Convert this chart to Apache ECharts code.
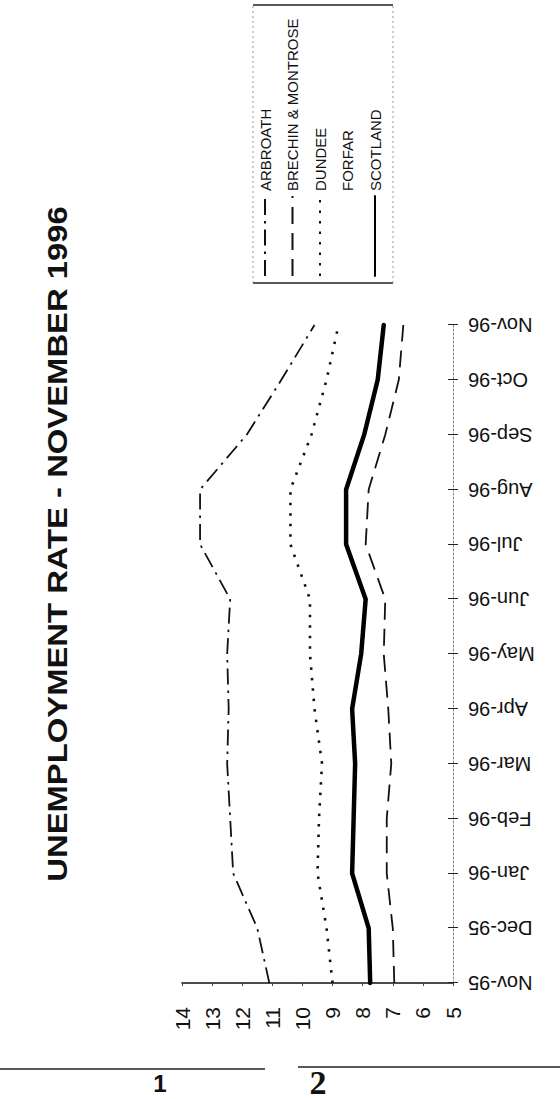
<!DOCTYPE html>
<html><head><meta charset="utf-8">
<script src="https://cdn.jsdelivr.net/npm/echarts@6/dist/echarts.min.js"></script>
<style>
html,body{margin:0;padding:0;background:#fff;overflow:hidden;width:560px;height:1099px;}
#chart{position:absolute;left:0;top:0;width:1099px;height:560px;transform-origin:0 0;transform:translate(0px,1099px) rotate(-90deg);}
</style></head><body><div id="chart"></div>
<script>
// Data (months Nov-95 .. Nov-96)
const months = ['Nov-95','Dec-95','Jan-96','Feb-96','Mar-96','Apr-96','May-96','Jun-96','Jul-96','Aug-96','Sep-96','Oct-96','Nov-96'];
const arbroath = [11.1, 11.5, 12.3, 12.4, 12.5, 12.45, 12.5, 12.4, 13.4, 13.4, 11.85, 10.7, 9.6];
const brechin  = [6.95, 7.0, 7.2, 7.2, 7.05, 7.15, 7.3, 7.25, 7.9, 7.8, 7.25, 6.8, 6.65];
const dundee   = [9.0, 9.2, 9.5, 9.45, 9.35, 9.6, 9.75, 9.75, 10.4, 10.4, 9.7, 9.2, 8.8];
const forfar   = [];
const scotland = [7.75, 7.8, 8.35, 8.3, 8.25, 8.35, 8.05, 7.9, 8.55, 8.55, 7.95, 7.5, 7.3];
const seriesNames = ['ARBROATH','BRECHIN & MONTROSE','DUNDEE','FORFAR','SCOTLAND'];
const valueMin = 5, valueMax = 14, valueStep = 1;
const titleText = 'UNEMPLOYMENT RATE - NOVEMBER 1996';

const FONT = 'Liberation Sans, Arial, Helvetica, sans-serif';
const chart = echarts.init(document.getElementById('chart'), null, {renderer:'svg'});
chart.setOption({
  animation:false,
  backgroundColor:'#fff',
  legend:{orient:'vertical',left:822,top:257,padding:0,itemWidth:80,itemHeight:16,itemGap:11.5,
    selectedMode:false,data:seriesNames,
    itemStyle:{opacity:0,borderWidth:0},
    textStyle:{fontFamily:FONT,fontSize:15,color:'#111',lineHeight:16}},
  grid:{left:116,right:325,top:182,bottom:107,containLabel:false},
  xAxis:[{type:'category',data:months,boundaryGap:false,position:'bottom',
      axisLine:{show:true,onZero:false,lineStyle:{color:'#888',width:1,type:[2,2]}},
      axisTick:{show:true,inside:false,length:5,lineStyle:{color:'#222',width:1}},
      axisLabel:{rotate:90,margin:15,fontFamily:FONT,fontSize:20,color:'#111'},
      splitLine:{show:false}},
    {type:'category',data:months,boundaryGap:false,position:'bottom',
      axisLine:{show:false,onZero:false},
      axisTick:{show:true,inside:true,length:5,lineStyle:{color:'#222',width:1}},
      axisLabel:{show:false},splitLine:{show:false}}],
  yAxis:{type:'value',min:valueMin,max:valueMax,interval:valueStep,
    axisLine:{show:true,onZero:false,lineStyle:{color:'#111',width:1.6}},
    axisTick:{show:true,length:3,lineStyle:{color:'#444',width:1}},
    axisLabel:{margin:24,fontFamily:FONT,fontSize:21,color:'#111'},
    splitLine:{show:false}},
  series:[
    {name:seriesNames[0],type:'line',data:arbroath,symbol:'none',itemStyle:{color:'#111'},
      lineStyle:{color:'#111',width:1.8,type:[16,6,2.5,6]}},
    {name:seriesNames[1],type:'line',data:brechin,symbol:'none',itemStyle:{color:'#111'},
      lineStyle:{color:'#111',width:1.8,type:[17,9]}},
    {name:seriesNames[2],type:'line',data:dundee,symbol:'none',itemStyle:{color:'#111'},
      lineStyle:{color:'#111',width:2.6,type:[2.5,8]}},
    {name:seriesNames[3],type:'line',data:forfar,symbol:'none',itemStyle:{color:'#111'},
      lineStyle:{color:'rgba(0,0,0,0)',width:0}},
    {name:seriesNames[4],type:'line',data:scotland,symbol:'none',itemStyle:{color:'#000'},
      lineStyle:{color:'#000',width:4.5,cap:'round',join:'round'}}
  ],
  graphic:[
    {type:'text',x:555,y:57.5,scaleX:1.215,scaleY:1,
      style:{text:titleText,fontSize:27,fontWeight:'bold',fontFamily:FONT,font:'bold 27px Liberation Sans, Arial, sans-serif',
        align:'center',verticalAlign:'middle',textAlign:'center',textVerticalAlign:'middle',fill:'#111'}},
    {type:'line',shape:{x1:816,y1:253,x2:816,y2:393},style:{stroke:'#222',lineWidth:1.5}},
    {type:'line',shape:{x1:1094,y1:253,x2:1094,y2:393},style:{stroke:'#222',lineWidth:1.5}},
    {type:'line',shape:{x1:816,y1:253,x2:1094,y2:253},style:{stroke:'#999',lineWidth:1,lineDash:[2,3]}},
    {type:'line',shape:{x1:816,y1:393,x2:1094,y2:393},style:{stroke:'#999',lineWidth:1,lineDash:[2,3]}},
    {type:'line',shape:{x1:30,y1:0,x2:30,y2:265},style:{stroke:'#222',lineWidth:1.5}},
    {type:'line',shape:{x1:32,y1:298,x2:32,y2:560},style:{stroke:'#222',lineWidth:1.5}},
    {type:'text',x:16,y:160,rotation:-Math.PI/2,
      style:{text:'1',font:'bold 24px Liberation Sans',fontSize:24,fontWeight:'bold',fontFamily:'Liberation Sans',lineHeight:22,
        align:'center',verticalAlign:'middle',textAlign:'center',textVerticalAlign:'middle',fill:'#111'}},
    {type:'text',x:17,y:318,rotation:-Math.PI/2,
      style:{text:'2',font:'bold 34px Liberation Serif',fontSize:34,fontWeight:'bold',fontFamily:'Liberation Serif',lineHeight:28,
        align:'center',verticalAlign:'middle',textAlign:'center',textVerticalAlign:'middle',fill:'#111'}}
  ]
});
</script></body></html>
